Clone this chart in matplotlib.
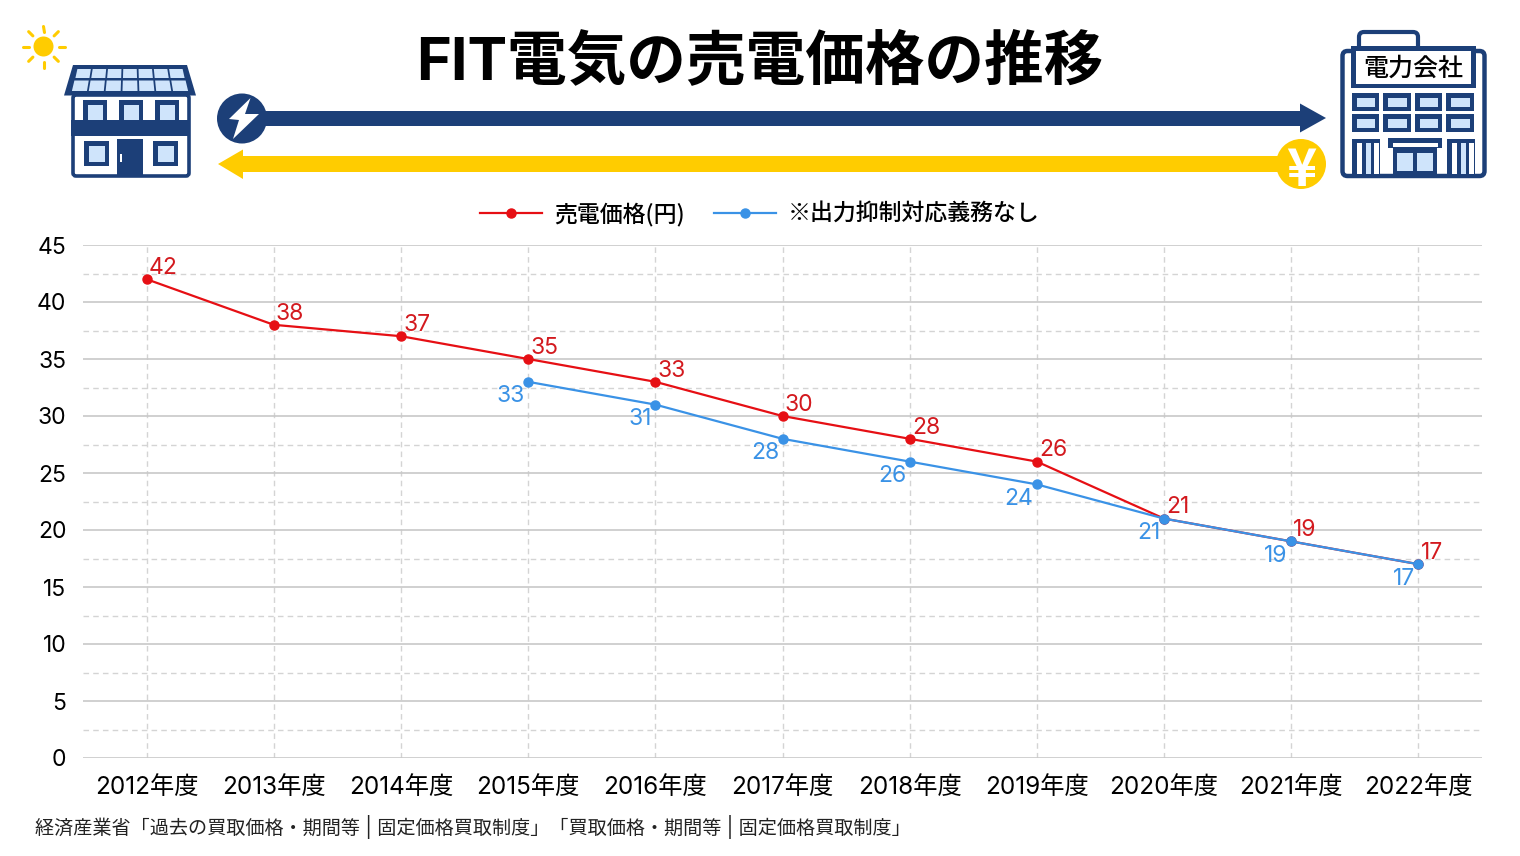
import numpy as np
import matplotlib
matplotlib.use('Agg')
import matplotlib.pyplot as plt
from matplotlib.patches import Rectangle, Polygon, Circle, FancyBboxPatch

plt.rcParams['font.family'] = ['Inter', 'Noto Sans CJK JP', 'DejaVu Sans']

years = ['2012年度', '2013年度', '2014年度', '2015年度', '2016年度', '2017年度',
         '2018年度', '2019年度', '2020年度', '2021年度', '2022年度']
price = [42, 38, 37, 35, 33, 30, 28, 26, 21, 19, 17]
no_limit = [np.nan, np.nan, np.nan, 33, 31, 28, 26, 24, 21, 19, 17]
price_name = '売電価格(円)'
no_limit_name = '※出力抑制対応義務なし'
title = 'FIT電気の売電価格の推移'
source = '経済産業省「過去の買取価格・期間等 | 固定価格買取制度」「買取価格・期間等 | 固定価格買取制度」'

NAVY = '#1c3f78'
YELLOW = '#ffcc00'
LIGHT = '#cfe4fb'
RED = '#e60f14'
BLUE = '#3a92e6'
W, H = 1520, 856

fig = plt.figure(figsize=(15.2, 8.56), dpi=100)

# chart
ax = fig.add_axes([83 / W, (H - 758) / H, 1399 / W, 513 / H])
x = np.arange(len(years))
ax.set_xlim(-0.5, len(years) - 0.5)
ax.set_ylim(0, 45)
ax.set_yticks(np.arange(0, 46, 5))
ax.set_yticks(np.arange(2.5, 45, 5), minor=True)
ax.set_xticks(x)
ax.set_xticklabels(years)
ax.tick_params(axis='both', which='both', length=0)
ax.tick_params(axis='x', labelsize=17.5, pad=13)
ax.tick_params(axis='y', labelsize=16.5, pad=12)
ax.grid(axis='y', which='major', color='#c8c8c8', lw=1.2)
ax.grid(axis='y', which='minor', color='#d4d4d4', lw=1, ls=(0, (4, 3)))
ax.grid(axis='x', which='major', color='#d4d4d4', lw=1, ls=(0, (4, 3)))
ax.set_axisbelow(True)
for s in ax.spines.values():
    s.set_visible(False)

ax.plot(x, price, color=RED, lw=1.6, marker='o', ms=6.5, label=price_name, clip_on=False)
ax.plot(x, no_limit, color=BLUE, lw=1.6, marker='o', ms=6.5, label=no_limit_name, clip_on=False)

# value labels
for i, v in enumerate(price):
    ax.annotate(str(v), (i, v), xytext=(1.5, 8), textcoords='offset points',
                color='#d3191e', fontsize=16.5, ha='left', va='center')
for i, v in enumerate(no_limit):
    if not np.isnan(v):
        ax.annotate(str(int(v)), (i, v), xytext=(-2.5, -10.5), textcoords='offset points',
                    color=BLUE, fontsize=16.5, ha='right', va='center')

ax.legend(loc='center', bbox_to_anchor=(760 / W, (H - 214) / H), bbox_transform=fig.transFigure,
          ncol=2, frameon=False, handlelength=2.7, handletextpad=0.55,
          columnspacing=1.25,
          prop={'size': 16.5, 'weight': 'medium', 'family': ['Noto Sans CJK JP']})

# overlay in pixel coordinates for the icons
ov = fig.add_axes([0, 0, 1, 1], zorder=5)
ov.set_xlim(0, W)
ov.set_ylim(H, 0)
ov.axis('off')


def rect(x0, y0, x1, y1, color):
    ov.add_patch(Rectangle((x0, y0), x1 - x0, y1 - y0, fc=color, ec='none'))


def framed(x0, y0, x1, y1, inset=4.5):
    rect(x0, y0, x1, y1, NAVY)
    rect(x0 + inset, y0 + inset, x1 - inset, y1 - inset, LIGHT)


def rounded(x0, y0, x1, y1, r, fc, ec=NAVY, lw=2.6):
    ov.add_patch(FancyBboxPatch((x0 + r, y0 + r), x1 - x0 - 2 * r, y1 - y0 - 2 * r,
                                boxstyle='round,pad=%f,rounding_size=%f' % (r, r),
                                fc=fc, ec=ec, lw=lw))


# sun
ov.add_patch(Circle((43.5, 46.5), 10, fc=YELLOW, ec='none'))
for a in np.deg2rad(np.arange(0, 360, 45)):
    ov.plot([43.5 + 15 * np.cos(a), 43.5 + 21 * np.cos(a)],
            [46.5 + 15 * np.sin(a), 46.5 + 21 * np.sin(a)],
            color=YELLOW, lw=2.2, solid_capstyle='round')

# house
ov.add_patch(Polygon([(73, 65), (187, 65), (196, 95.5), (64, 95.5)], fc=NAVY, ec='none'))
# two rows of solar panels, each narrowing towards the ridge
for y0, y1, l0, r0, l1, r1 in [(69, 78, 76.5, 183.5, 74.5, 185.5), (80.5, 91, 73.5, 186.5, 71, 189)]:
    for c in range(7):
        a0 = l0 + (r0 - l0) * c / 7 + 0.9
        a1 = l0 + (r0 - l0) * (c + 1) / 7 - 0.9
        b0 = l1 + (r1 - l1) * c / 7 + 0.9
        b1 = l1 + (r1 - l1) * (c + 1) / 7 - 0.9
        ov.add_patch(Polygon([(a0, y0), (a1, y0), (b1, y1), (b0, y1)], fc=LIGHT, ec='none'))
rounded(73, 95, 189, 176, 3, 'white')
rect(71, 120, 190, 136, NAVY)
for x0 in (83, 119, 155):
    rect(x0, 100, x0 + 24, 120, NAVY)
    rect(x0 + 4.5, 105, x0 + 19.5, 120, LIGHT)
framed(84, 141, 109, 166)
framed(153, 141, 178, 166)
rect(117, 139, 143, 177, NAVY)
rect(120, 154, 122, 162, 'white')

# arrows
rect(242, 110.5, 1301, 126, NAVY)
ov.add_patch(Polygon([(1300, 103.5), (1326, 118), (1300, 132.5)], fc=NAVY, ec='none'))
ov.add_patch(Circle((242, 118.5), 25, fc=NAVY, ec='none'))
ov.add_patch(Polygon([(250.5, 98), (229, 119), (239, 120), (233, 139), (259, 114), (245, 114)],
                     fc='white', ec='none'))
rect(242, 156, 1300, 172, YELLOW)
ov.add_patch(Polygon([(243, 149.5), (218, 164), (243, 179)], fc=YELLOW, ec='none'))
ov.add_patch(Circle((1301, 164), 25, fc=YELLOW, ec='none'))
ov.text(1301.5, 170, '¥', color='white', fontsize=37, fontweight='bold', ha='center', va='center',
        family=['Noto Sans CJK JP'])

# building
rounded(1359, 32, 1418, 52, 5, 'white', lw=3)
rounded(1342.5, 51, 1484.5, 176, 5, 'white', lw=3.2)
rect(1351, 46, 1476, 88, NAVY)
rect(1356, 51, 1471, 84, 'white')
ov.text(1413.5, 69, '電力会社', fontsize=18, fontweight='medium', ha='center', va='center', color='black')
for x0, x1 in [(1352, 1379), (1383, 1411), (1415, 1442), (1446, 1474)]:
    framed(x0, 93, x1, 111)
    framed(x0, 114, x1, 132)
for x0 in (1352, 1447):
    rect(x0, 139, x0 + 28, 174, NAVY)
    rect(x0 + 4.5, 143, x0 + 10, 174, 'white')
    rect(x0 + 13.5, 143, x0 + 18.5, 174, LIGHT)
    rect(x0 + 22, 143, x0 + 27, 174, 'white')
rect(1388, 138, 1442, 148, NAVY)
rect(1392.5, 143, 1437.5, 147, 'white')
rect(1393, 148, 1437, 174, NAVY)
rect(1397, 153, 1413, 171, LIGHT)
rect(1417, 153, 1433, 171, LIGHT)

# titles
ov.text(760, 63, title, fontsize=42.9, fontweight='bold', ha='center', va='center', color='black')
ov.text(35, 827, source, fontsize=13.75, ha='left', va='center', color='#222222')

fig.savefig('out.png', dpi=100)
